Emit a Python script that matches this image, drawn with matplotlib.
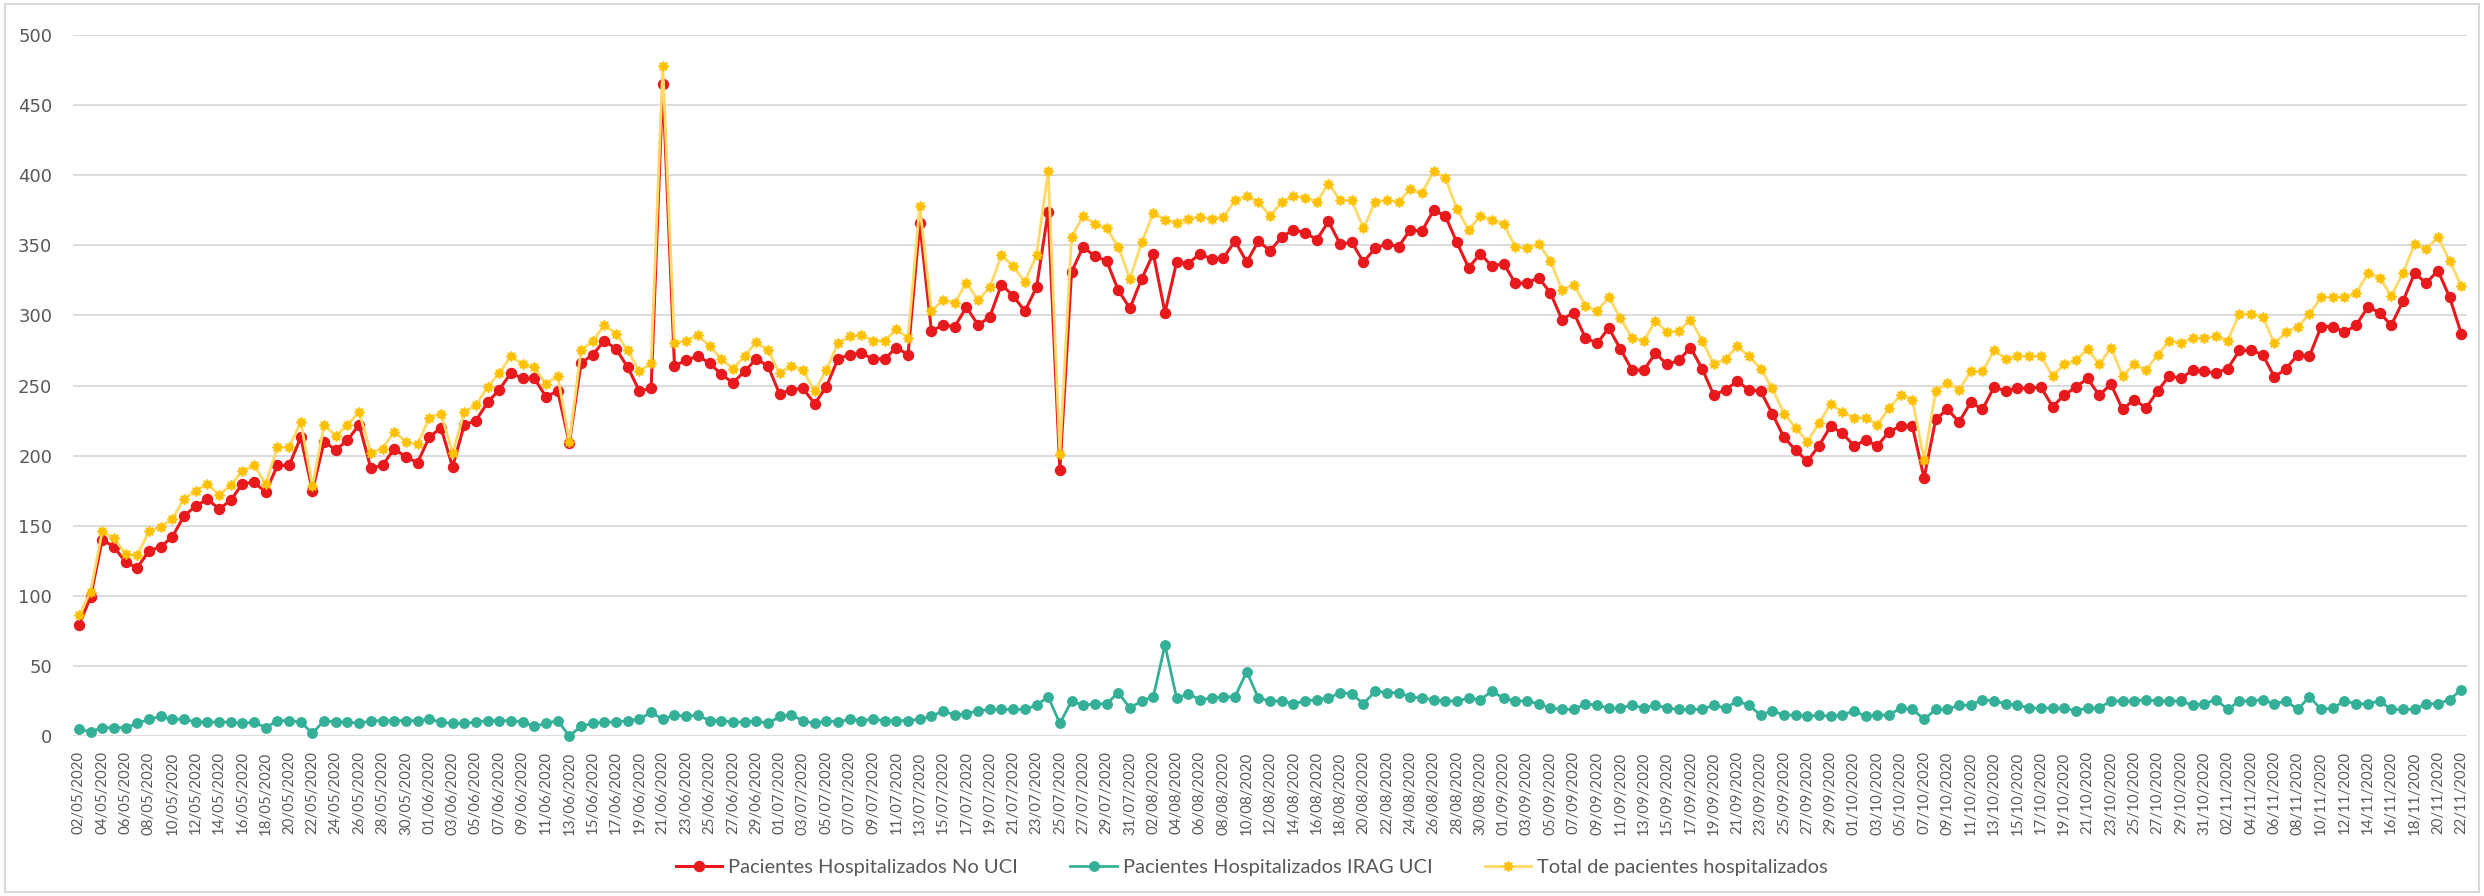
import matplotlib
matplotlib.use("Agg")
import matplotlib.pyplot as plt
from matplotlib.patches import Rectangle
import pandas as pd
import numpy as np

# ---- data ----
start_date = "2020-05-02"
end_date = "2020-11-22"

no_uci = [79, 99, 140, 135, 124, 120, 132, 135, 142, 157, 164, 169, 162, 168, 180, 181, 174, 193, 193, 213,
          175, 210, 204, 211, 222, 191,
          193, 205, 199, 195, 213, 220, 192, 222, 225, 238, 247, 259, 255, 255, 242, 246, 209, 266, 272, 282,
          276, 263, 246, 248, 465,
          264, 268, 271, 266, 258, 252, 260, 269, 264, 244, 247, 248, 237, 249, 269, 272, 273, 269, 269, 277,
          272, 366, 289, 293, 292, 306,
          293, 299, 322, 314, 303, 320, 374, 190, 331, 349, 342, 339, 318, 305, 326, 344, 302, 338, 337, 344,
          340, 341, 353, 338, 353, 346,
          356, 361, 359, 354, 367, 351, 352, 338, 348, 351, 349, 361, 360, 375, 371, 352, 334, 344, 335, 337,
          323, 323, 327, 316, 297,
          302, 284, 280, 291, 276, 261, 261, 273, 265, 268, 277, 262, 243, 247, 253, 247, 246, 230, 213, 204,
          196, 207, 221, 216, 207, 211,
          207, 217, 221, 221, 184, 226, 233, 224, 238, 233, 249, 246, 248, 248, 249, 235, 243, 249, 255, 243,
          251, 233, 240, 234, 246,
          257, 255, 261, 260, 259, 262, 275, 275, 272, 256, 262, 272, 271, 292, 292, 288, 293, 306, 302, 293,
          310, 330, 323, 332, 313, 287]

irag_uci = [5, 3, 6, 6, 6, 9, 12, 14, 12, 12, 10, 10, 10, 10, 9, 10, 6, 11, 11, 10,
            2, 11, 10, 10, 9, 11,
            11, 11, 11, 11, 12, 10, 9, 9, 10, 11, 11, 11, 10, 7, 9, 11, 0, 7, 9, 10,
            10, 11, 12, 17, 12,
            15, 14, 15, 11, 11, 10, 10, 11, 9, 14, 15, 11, 9, 11, 10, 12, 11, 12, 11, 11,
            11, 12, 14, 18, 15, 16,
            18, 19, 19, 19, 19, 22, 28, 9, 25, 22, 23, 23, 31, 20, 25, 28, 65, 27, 30, 26,
            27, 28, 28, 46, 27, 25,
            25, 23, 25, 26, 27, 31, 30, 23, 32, 31, 31, 28, 27, 26, 25, 25, 27, 26, 32, 27,
            25, 25, 23, 20, 19,
            19, 23, 22, 20, 20, 22, 20, 22, 20, 19, 19, 19, 22, 20, 25, 22, 15, 18, 15, 15,
            14, 15, 14, 15, 18, 14,
            15, 15, 20, 19, 12, 19, 19, 22, 22, 26, 25, 23, 22, 20, 20, 20, 20, 18, 20, 20,
            25, 25, 25, 26, 25,
            25, 25, 22, 23, 26, 19, 25, 25, 26, 23, 25, 19, 28, 19, 20, 25, 23, 23, 25, 19,
            19, 19, 23, 23, 26, 33]

total = [86, 103, 146, 141, 130, 129, 146, 149, 155, 169, 175, 180, 172, 179, 189, 193, 180, 206, 206, 224,
         178, 222, 214, 222, 231, 202,
         205, 217, 210, 208, 227, 230, 202, 231, 236, 249, 259, 271, 265, 263, 251, 257, 210, 275, 282, 293,
         287, 275, 260, 266, 478,
         280, 282, 286, 278, 269, 262, 271, 281, 275, 259, 264, 261, 246, 261, 280, 285, 286, 282, 282, 290,
         284, 378, 303, 311, 309, 323,
         311, 320, 343, 335, 324, 343, 403, 201, 356, 371, 365, 362, 349, 326, 352, 373, 368, 366, 369, 370,
         369, 370, 382, 385, 381, 371,
         381, 385, 384, 381, 394, 382, 382, 362, 381, 382, 381, 390, 387, 403, 398, 376, 361, 371, 368, 365,
         349, 348, 351, 339, 318,
         322, 307, 303, 313, 298, 284, 282, 296, 288, 289, 297, 282, 265, 269, 278, 271, 262, 248, 230, 220,
         210, 223, 237, 231, 227, 227,
         222, 234, 243, 240, 197, 246, 252, 247, 260, 260, 275, 269, 271, 271, 271, 257, 265, 268, 276, 265,
         277, 257, 265, 261, 272,
         282, 280, 284, 284, 285, 282, 301, 301, 299, 280, 288, 292, 301, 313, 313, 313, 316, 330, 327, 314,
         330, 351, 347, 356, 339, 321]

series_names = ["Pacientes Hospitalizados No UCI",
                "Pacientes Hospitalizados IRAG UCI",
                "Total de pacientes hospitalizados"]

dates = pd.date_range(start_date, end_date, freq="D")
date_labels = [d.strftime("%d/%m/%Y") for d in dates]
x = np.arange(len(dates))

# ---- styling ----
RED = "#E8191C"
GREEN = "#35B098"
YEL_M = "#FFC000"
YEL_L = "#FFD966"
GRID = "#D9D9D9"
TXT = "#595959"
label_font = ["Lato", "DejaVu Sans"]

fig = plt.figure(figsize=(24.84, 8.96), dpi=100)
fig.patch.set_facecolor("white")
fig.patches.append(Rectangle((0.002, 0.005), 0.996, 0.99, transform=fig.transFigure,
                             fill=False, edgecolor=GRID, linewidth=1.5))

ax = fig.add_axes([0.0294, 0.1785, 0.9638, 0.7825])
ax.set_xlim(-0.5, len(dates) - 0.5)
ax.set_ylim(0, 500)
ax.set_yticks(np.arange(0, 501, 50))
ax.grid(axis="y", color=GRID, linewidth=1.3)
ax.set_axisbelow(True)
for s in ax.spines.values():
    s.set_visible(False)

ax.plot(x, no_uci, color=RED, lw=2.2, marker="o", ms=7.2, mec=RED, mfc=RED,
        label=series_names[0], clip_on=False, zorder=3)
ax.plot(x, irag_uci, color=GREEN, lw=2.0, marker="o", ms=6.8, mec=GREEN, mfc=GREEN,
        label=series_names[1], clip_on=False, zorder=4)
ax.plot(x, total, color=YEL_L, lw=2.0, marker=(8, 1, 0), ms=7.5, mec=YEL_M, mfc=YEL_M,
        label=series_names[2], clip_on=False, zorder=5)

ax.set_xticks(x[::2])
ax.set_xticklabels(date_labels[::2], rotation=90, fontsize=10.8, color=TXT, family=label_font)
ax.tick_params(axis="x", length=0, pad=11)
ax.tick_params(axis="y", length=0, pad=15, labelsize=13, labelcolor=TXT)

leg = fig.legend(loc="center", bbox_to_anchor=(0.504, 0.032), ncol=3, frameon=False,
                 prop={"family": label_font, "size": 14.5}, handlelength=2.3, handletextpad=0.3,
                 columnspacing=2.6)
for t in leg.get_texts():
    t.set_color(TXT)

fig.savefig("out.png", dpi=100, facecolor="white")
